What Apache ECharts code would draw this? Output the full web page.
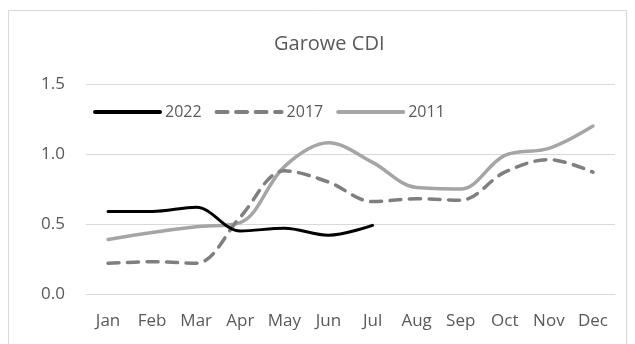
<!DOCTYPE html>
<html>
<head>
<meta charset="utf-8">
<script src="https://cdn.jsdelivr.net/npm/echarts@6/dist/echarts.min.js"></script>
<style>
  html, body { margin: 0; padding: 0; background: #fff; }
  #chart { width: 635px; height: 344px; }
</style>
</head>
<body>
<div id="chart"></div>
<script>
// Monthly CDI values for Garowe, three years
const months = ['Jan', 'Feb', 'Mar', 'Apr', 'May', 'Jun', 'Jul', 'Aug', 'Sep', 'Oct', 'Nov', 'Dec'];
const cdi2022 = [0.59, 0.59, 0.62, 0.45, 0.47, 0.42, 0.49];
const cdi2017 = [0.22, 0.23, 0.22, 0.55, 0.88, 0.80, 0.66, 0.68, 0.67, 0.87, 0.96, 0.87];
const cdi2011 = [0.39, 0.44, 0.48, 0.51, 0.91, 1.08, 0.94, 0.76, 0.75, 0.99, 1.04, 1.20];
const yTicks = [0, 0.5, 1.0, 1.5];

const textColor = '#595959';
const fontFamily = '"Open Sans", "Liberation Sans", sans-serif';

const chart = echarts.init(document.getElementById('chart'), null, { renderer: 'canvas' });

chart.setOption({
  animation: false,
  backgroundColor: '#fff',
  title: {
    text: 'Garowe CDI',
    left: 269,
    top: 29,
    textStyle: { color: textColor, fontSize: 20, fontWeight: 'normal', fontFamily: fontFamily }
  },
  graphic: [{
    type: 'rect',
    shape: { x: 8.5, y: 10.5, width: 618, height: 340 },
    style: { fill: 'none', stroke: '#d9d9d9', lineWidth: 1 },
    silent: true
  }],
  legend: {
    left: 88,
    top: 99,
    itemWidth: 65,
    itemHeight: 20,
    itemGap: 13,
    itemStyle: { opacity: 0 },
    lineStyle: { width: 4 },
    textStyle: { color: textColor, fontSize: 16, fontFamily: fontFamily, padding: [0, 0, 0, 0] },
    data: ['2022', '2017', '2011']
  },
  grid: { left: 86, right: 20, top: 84, bottom: 50 },
  xAxis: {
    type: 'category',
    data: months,
    boundaryGap: true,
    axisLine: { show: true, lineStyle: { color: '#d9d9d9' } },
    axisTick: { show: false },
    axisLabel: { color: textColor, fontSize: 17, fontFamily: fontFamily, margin: 19 }
  },
  yAxis: {
    type: 'value',
    min: yTicks[0],
    max: yTicks[yTicks.length - 1],
    interval: 0.5,
    axisLine: { show: false },
    axisTick: { show: false },
    splitLine: { lineStyle: { color: '#d9d9d9' } },
    axisLabel: {
      color: textColor, fontSize: 17, fontFamily: fontFamily, margin: 21,
      formatter: v => v.toFixed(1)
    }
  },
  series: [
    {
      name: '2022', type: 'line', data: cdi2022, smooth: 0.35, showSymbol: false, symbol: 'none',
      lineStyle: { color: '#000000', width: 3, cap: 'round' },
      itemStyle: { color: '#000000' }, z: 4
    },
    {
      name: '2017', type: 'line', data: cdi2017, smooth: 0.35, showSymbol: false, symbol: 'none',
      lineStyle: { color: '#7f7f7f', width: 3.5, type: [11, 8.5], cap: 'round' },
      itemStyle: { color: '#7f7f7f' }, z: 3
    },
    {
      name: '2011', type: 'line', data: cdi2011, smooth: 0.35, showSymbol: false, symbol: 'none',
      lineStyle: { color: '#a5a5a5', width: 3.5, cap: 'round' },
      itemStyle: { color: '#a5a5a5' }, z: 2
    }
  ]
});
</script>
</body>
</html>
